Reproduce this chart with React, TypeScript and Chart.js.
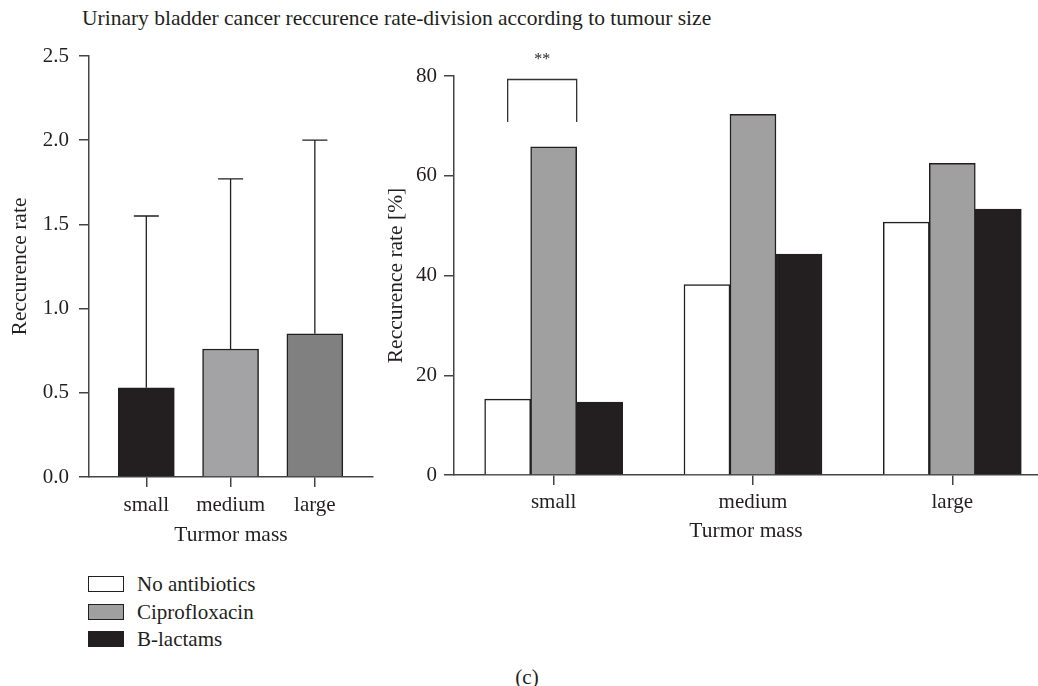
import React, { useEffect, useRef } from 'react';
import { Chart, registerables } from 'chart.js';

Chart.register(...registerables);

// ---------- data ----------
const sizeCategories = ['small', 'medium', 'large'];
const overallRate = [0.53, 0.76, 0.85];
const overallError = [1.02, 1.01, 1.15];
const overallColors = ['#231f20', '#a3a3a6', '#7f807f'];

const groupNames = ['No antibiotics', 'Ciprofloxacin', 'B-lactams'];
const groupColors = ['#ffffff', '#a0a0a0', '#231f20'];
const noAntibiotics = [15.2, 38.2, 50.7];
const ciprofloxacin = [65.8, 72.3, 62.5];
const bLactams = [14.6, 44.3, 53.3];

const leftYMax = 2.5;
const leftYStep = 0.5;
const rightYMax = 80;
const rightYStep = 20;

const sigCategory = 0;
const sigFromSeries = 0;
const sigToSeries = 1;
const sigLow = 70.8;
const sigHigh = 79.3;
const sigLabel = '**';

const chartTitle = 'Urinary bladder cancer reccurence rate-division according to tumour size';
const panelLabel = '(c)';

// ---------- styles ----------
const FONT = 'Liberation Serif';
const TEXT = '#231f20';
const AXIS = '#444444';
const tickFont = { family: FONT, size: 21 };
const titleFont = { family: FONT, size: 21.5 };

const axisGrid = {
  display: true,
  drawOnChartArea: false,
  drawTicks: true,
  tickLength: 10,
  offset: false,
  color: AXIS,
  lineWidth: 1.5,
};
const axisBorder = { display: true, color: AXIS, width: 1.5 };

const errorBarPlugin = {
  id: 'errorBars',
  afterDatasetsDraw(chart: any) {
    const ctx = chart.ctx;
    const y = chart.scales.y;
    const meta = chart.getDatasetMeta(0);
    ctx.save();
    ctx.strokeStyle = TEXT;
    ctx.lineWidth = 1.3;
    meta.data.forEach((el: any, i: number) => {
      const top = y.getPixelForValue(overallRate[i] + overallError[i]);
      ctx.beginPath();
      ctx.moveTo(el.x, el.y);
      ctx.lineTo(el.x, top);
      ctx.moveTo(el.x - 12.5, top);
      ctx.lineTo(el.x + 12.5, top);
      ctx.stroke();
    });
    ctx.restore();
  },
};

const bracketPlugin = {
  id: 'sigBracket',
  afterDatasetsDraw(chart: any) {
    const ctx = chart.ctx;
    const y = chart.scales.y;
    const a = chart.getDatasetMeta(sigFromSeries).data[sigCategory] as any;
    const b = chart.getDatasetMeta(sigToSeries).data[sigCategory] as any;
    const x1 = a.x;
    const x2 = b.x + b.width / 2;
    const yTop = y.getPixelForValue(sigHigh);
    const yLow = y.getPixelForValue(sigLow);
    ctx.save();
    ctx.strokeStyle = '#333333';
    ctx.lineWidth = 1.3;
    ctx.beginPath();
    ctx.moveTo(x1, yLow);
    ctx.lineTo(x1, yTop);
    ctx.lineTo(x2, yTop);
    ctx.lineTo(x2, yLow);
    ctx.stroke();
    ctx.fillStyle = TEXT;
    ctx.font = `16px "${FONT}"`;
    ctx.textAlign = 'center';
    ctx.textBaseline = 'alphabetic';
    ctx.fillText(sigLabel, (x1 + x2) / 2, yTop - 15);
    ctx.restore();
  },
};

export default function App() {
  const leftRef = useRef<HTMLCanvasElement>(null);
  const rightRef = useRef<HTMLCanvasElement>(null);

  useEffect(() => {
    const left = new Chart(leftRef.current as HTMLCanvasElement, {
      type: 'bar',
      data: {
        datasets: [
          {
            data: sizeCategories.map((_, i) => ({ x: i, y: overallRate[i] })),
            backgroundColor: overallColors,
            borderColor: '#231f20',
            borderWidth: 1.5,
            barThickness: 56,
          } as any,
        ],
      },
      options: {
        responsive: false,
        animation: false,
        devicePixelRatio: 1,
        layout: { padding: { top: 56, left: 0, right: 7, bottom: 0 } },
        plugins: {
          legend: { display: false },
          tooltip: { enabled: false },
          title: { display: false },
        },
        scales: {
          x: {
            type: 'linear',
            min: -0.68,
            max: 2.69,
            offset: false,
            grid: axisGrid,
            border: axisBorder,
            afterBuildTicks: (s: any) => {
              s.ticks = sizeCategories.map((_, i) => ({ value: i }));
            },
            ticks: {
              callback: (v: any) => sizeCategories[v as number],
              font: tickFont,
              color: TEXT,
              padding: 6,
              maxRotation: 0,
              autoSkip: false,
            },
            title: { display: true, text: 'Turmor mass', font: titleFont, color: TEXT, padding: { top: 2, bottom: 4 } },
            afterFit: (s: any) => {
              s.height = 75;
            },
          },
          y: {
            min: 0,
            max: leftYMax,
            grid: axisGrid,
            border: axisBorder,
            ticks: {
              stepSize: leftYStep,
              callback: (v: any) => Number(v).toFixed(1),
              font: tickFont,
              color: TEXT,
              padding: 10,
            },
            title: { display: true, text: 'Reccurence rate', font: titleFont, color: TEXT, padding: { top: 7, bottom: 4 } },
            afterFit: (s: any) => {
              s.width = 89;
            },
          },
        } as any,
      },
      plugins: [errorBarPlugin],
    });

    const seriesValues = [noAntibiotics, ciprofloxacin, bLactams];
    const right = new Chart(rightRef.current as HTMLCanvasElement, {
      type: 'bar',
      data: {
        datasets: seriesValues.map((vals, k) => ({
          label: groupNames[k],
          data: sizeCategories.map((_, i) => ({ x: i, y: vals[i] })),
          backgroundColor: groupColors[k],
          borderColor: '#231f20',
          borderWidth: 1.5,
          barThickness: 46,
        })) as any,
      },
      options: {
        responsive: false,
        animation: false,
        devicePixelRatio: 1,
        layout: { padding: { top: 76, left: 0, right: 0, bottom: 0 } },
        plugins: {
          legend: { display: false },
          tooltip: { enabled: false },
          title: { display: false },
        },
        scales: {
          x: {
            type: 'linear',
            min: -0.5,
            max: 2.43,
            offset: false,
            grid: axisGrid,
            border: axisBorder,
            afterBuildTicks: (s: any) => {
              s.ticks = sizeCategories.map((_, i) => ({ value: i }));
            },
            ticks: {
              callback: (v: any) => sizeCategories[v as number],
              font: tickFont,
              color: TEXT,
              padding: 5,
              maxRotation: 0,
              autoSkip: false,
            },
            title: { display: true, text: 'Turmor mass', font: titleFont, color: TEXT, padding: { top: 2, bottom: 4 } },
            afterFit: (s: any) => {
              s.height = 73;
            },
          },
          y: {
            min: 0,
            max: rightYMax,
            grid: axisGrid,
            border: axisBorder,
            ticks: {
              stepSize: rightYStep,
              font: tickFont,
              color: TEXT,
              padding: 7,
            },
            title: { display: true, text: 'Reccurence rate [%]', font: titleFont, color: TEXT, padding: { top: 3, bottom: 4 } },
            afterFit: (s: any) => {
              s.width = 74;
            },
          },
        } as any,
      },
      plugins: [bracketPlugin],
    });

    return () => {
      left.destroy();
      right.destroy();
    };
  }, []);

  return (
    <div
      style={{
        position: 'absolute',
        left: 0,
        top: 0,
        width: 1038,
        height: 686,
        overflow: 'hidden',
        background: '#ffffff',
        fontFamily: `"${FONT}", serif`,
        color: TEXT,
      }}
    >
      <div
        style={{
          position: 'absolute',
          left: 82,
          top: 6,
          fontSize: 21.5,
          lineHeight: '24px',
          whiteSpace: 'nowrap',
        }}
      >
        {chartTitle}
      </div>
      <canvas
        ref={leftRef}
        width={380}
        height={552}
        style={{ position: 'absolute', left: 0, top: 0, display: 'block' }}
      />
      <canvas
        ref={rightRef}
        width={658}
        height={548}
        style={{ position: 'absolute', left: 380, top: 0, display: 'block' }}
      />
      {groupNames.map((name, k) => (
        <div
          key={name}
          style={{
            position: 'absolute',
            left: 88,
            top: 576 + k * 27.5,
            height: 16,
            display: 'flex',
            alignItems: 'center',
            whiteSpace: 'nowrap',
          }}
        >
          <div
            style={{
              width: 36,
              height: 16,
              boxSizing: 'border-box',
              border: '1.5px solid #231f20',
              background: groupColors[k],
              marginRight: 13,
            }}
          />
          <span style={{ fontSize: 21, lineHeight: '16px' }}>{name}</span>
        </div>
      ))}
      <div
        style={{
          position: 'absolute',
          left: 507,
          top: 665,
          width: 40,
          textAlign: 'center',
          fontSize: 21,
          lineHeight: '24px',
        }}
      >
        {panelLabel}
      </div>
    </div>
  );
}
